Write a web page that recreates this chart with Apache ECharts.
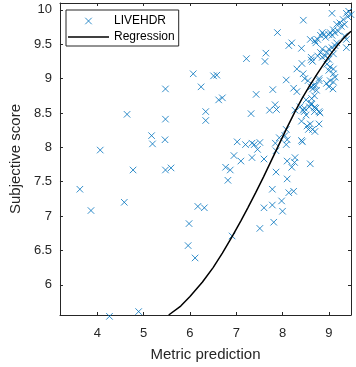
<!DOCTYPE html>
<html>
<head>
<meta charset="utf-8">
<script src="https://cdn.jsdelivr.net/npm/echarts@6/dist/echarts.min.js"></script>
<style>html,body{margin:0;padding:0;background:#fff}#chart{width:356px;height:367px}</style>
</head>
<body>
<div id="chart"></div>
<script>
const metricPrediction = [
3.62,3.86,4.06,4.26,4.58,4.64,4.77,4.89,5.17,5.19,5.47,5.47,5.46,5.47,5.59,
5.96,5.98,6.07,6.11,6.17,6.24,6.31,6.34,6.34,6.51,6.58,6.62,6.70,6.77,6.82,6.87,6.91,6.95,
7.02,7.10,7.20,7.22,7.32,7.34,7.34,7.39,7.43,7.46,7.51,7.51,7.60,7.60,7.62,7.64,7.72,7.78,7.78,
7.79,7.81,7.84,7.845,7.86,7.86,7.87,7.89,7.93,7.98,8.00,8.05,8.08,8.08,8.08,8.10,8.10,8.10,
8.135,8.135,8.20,8.20,8.24,8.24,8.26,8.27,8.27,8.31,8.31,8.38,8.41,8.41,8.41,8.42,8.43,8.445,
8.445,8.45,8.47,8.47,8.48,8.51,8.51,8.53,8.55,8.56,8.58,8.60,8.60,8.60,8.62,8.62,8.62,8.62,
8.62,8.63,8.65,8.65,8.65,8.67,8.69,8.69,8.69,8.70,8.70,8.72,8.72,8.72,8.735,8.76,8.76,8.79,
8.79,8.79,8.79,8.81,8.82,8.82,8.86,8.86,8.86,8.895,8.93,8.93,8.95,8.96,8.96,9.00,9.00,9.00,
9.00,9.00,9.03,9.03,9.03,9.07,9.07,9.07,9.09,9.10,9.10,9.10,9.10,9.10,9.13,9.135,9.135,9.17,
9.17,9.205,9.24,9.27,9.31,9.34,9.34,9.38,9.38,9.38,9.41,9.43,9.48
];
const subjectiveScore = [
7.39,7.08,7.96,5.54,7.20,8.48,7.67,5.61,8.17,8.05,8.85,8.41,8.11,7.67,7.70,
6.57,6.89,9.07,6.39,7.14,8.88,7.12,8.52,8.39,9.04,9.05,8.69,8.72,7.71,7.52,7.67,6.71,7.88,
8.08,7.80,8.04,9.29,8.49,8.06,7.85,8.04,8.77,7.97,8.07,6.82,7.83,7.12,9.25,9.37,8.54,7.39,7.16,
8.84,6.91,8.62,8.06,7.95,7.64,8.55,9.67,8.14,7.22,7.07,8.17,8.04,8.26,8.98,8.11,7.80,7.54,
9.48,7.34,9.52,7.71,8.86,7.36,7.78,8.54,7.85,9.14,8.81,8.59,9.44,8.38,8.10,9.22,8.08,9.07,
8.54,9.85,8.57,8.52,9.00,8.47,8.69,8.31,8.97,8.26,8.59,9.57,8.34,7.76,9.27,9.31,8.88,8.64,
8.62,8.71,9.25,8.85,8.26,8.90,8.75,8.58,8.52,9.55,8.23,9.52,8.90,8.57,8.83,9.57,9.33,9.00,
8.97,8.52,8.34,8.50,9.63,9.38,9.67,9.43,9.31,9.64,9.60,9.33,8.93,9.38,9.21,9.64,9.43,9.28,
9.12,8.88,9.67,9.17,8.97,9.95,9.63,9.45,8.85,9.71,9.36,9.14,9.07,8.95,9.67,9.48,9.02,9.79,
9.52,9.69,9.81,9.76,9.86,9.79,9.62,9.95,9.57,9.45,9.90,9.98,9.93
];
const regressionX = [5.54,5.80,6.00,6.27,6.50,6.70,6.91,7.10,7.25,7.42,7.59,7.76,7.93,8.10,8.27,8.42,8.58,8.76,8.93,9.10,9.20,9.31,9.40,9.48];
const regressionY = [5.56,5.69,5.83,6.04,6.25,6.46,6.70,6.93,7.12,7.34,7.57,7.81,8.05,8.29,8.52,8.71,8.89,9.08,9.25,9.41,9.495,9.58,9.64,9.69];
const xTicks = [4,5,6,7,8,9];
const yTicks = [6,6.5,7,7.5,8,8.5,9,9.5,10];

const AX = '#262626';
const FONT = 'Liberation Sans';
const xMarker = 'path://M0,0L10,10M10,0L0,10';
const lineIcon = 'path://M0,0L40,0L40,1.5L0,1.5Z';

const chart = echarts.init(document.getElementById('chart'), null, {renderer:'canvas'});
const axisCommon = {
  axisLine:{show:true,onZero:false,lineStyle:{color:AX,width:1}},
  splitLine:{show:false}
};
chart.setOption({
  animation:false,
  backgroundColor:'#fff',
  textStyle:{fontFamily:FONT},
  grid:{left:47,right:5,top:3,bottom:47,containLabel:false},
  legend:{
    left:66,top:10,orient:'vertical',
    borderColor:AX,borderWidth:1,padding:[5,4,3,2],
    itemWidth:41,itemHeight:6.5,itemGap:4,
    textStyle:{fontFamily:FONT,fontSize:12,color:'#000'},
    data:[{name:'LIVEHDR',itemStyle:{borderWidth:1}},{name:'Regression',icon:lineIcon}]
  },
  xAxis:[
    Object.assign({type:'value',position:'bottom',min:3.19,max:9.48,
      name:'Metric prediction',nameLocation:'middle',nameGap:32,
      nameTextStyle:{fontFamily:FONT,fontSize:15,color:AX},
      axisTick:{show:true,inside:true,length:3,lineStyle:{color:AX},customValues:xTicks},
      axisLabel:{show:true,margin:12,fontFamily:FONT,fontSize:13,color:AX,customValues:xTicks}
    },axisCommon),
    Object.assign({type:'value',position:'top',min:3.19,max:9.48,
      axisTick:{show:true,inside:true,length:3,lineStyle:{color:AX},customValues:xTicks},
      axisLabel:{show:false}
    },axisCommon)
  ],
  yAxis:[
    Object.assign({type:'value',position:'left',min:5.56,max:10.1,
      name:'Subjective score',nameLocation:'middle',nameGap:25,
      nameTextStyle:{fontFamily:FONT,fontSize:15,color:AX},
      axisTick:{show:true,inside:true,length:3,lineStyle:{color:AX},customValues:yTicks},
      axisLabel:{show:true,margin:8,fontFamily:FONT,fontSize:13,color:AX,customValues:yTicks}
    },axisCommon),
    Object.assign({type:'value',position:'right',min:5.56,max:10.1,
      axisTick:{show:true,inside:true,length:3,lineStyle:{color:AX},customValues:yTicks},
      axisLabel:{show:false}
    },axisCommon)
  ],
  series:[
    {
      name:'LIVEHDR',type:'scatter',xAxisIndex:0,yAxisIndex:0,clip:false,
      symbol:xMarker,symbolSize:6.5,
      itemStyle:{color:'#0072BD',borderColor:'#0072BD',borderWidth:1},
      data:metricPrediction.map((x,i)=>[x,subjectiveScore[i]])
    },
    {
      name:'Regression',type:'line',xAxisIndex:0,yAxisIndex:0,
      symbol:'none',smooth:false,
      lineStyle:{color:'#000',width:1.5},
      itemStyle:{color:'#000'},
      data:regressionX.map((x,i)=>[x,regressionY[i]])
    }
  ]
});
</script>
</body>
</html>
